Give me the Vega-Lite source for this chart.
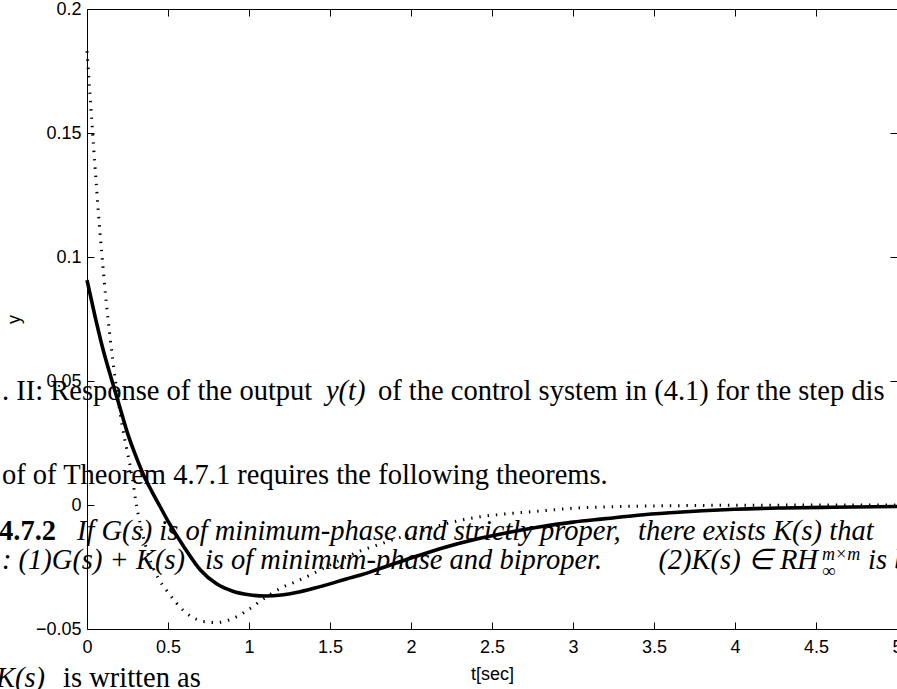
{
  "$schema": "https://vega.github.io/schema/vega-lite/v6.json",
  "width": 810,
  "height": 620,
  "autosize": {"type": "none"},
  "padding": {"left": 87, "top": 9, "right": 0, "bottom": 60},
  "background": "white",
  "config": {
    "view": {"stroke": null},
    "axis": {
      "domainColor": "black", "tickColor": "black", "labelColor": "black", "titleColor": "black",
      "labelFont": "Liberation Sans", "titleFont": "Liberation Sans",
      "labelFontSize": 18, "titleFontSize": 18, "titleFontWeight": "normal",
      "grid": false, "domainWidth": 1, "tickWidth": 1,
      "labelFlush": false, "labelOverlap": false
    }
  },
  "datasets": {
    "solid": [
      {"t": 0, "y": 0.0907}, {"t": 0.05, "y": 0.076}, {"t": 0.1, "y": 0.0625}, {"t": 0.15, "y": 0.051},
      {"t": 0.2, "y": 0.040}, {"t": 0.25, "y": 0.029}, {"t": 0.3, "y": 0.020}, {"t": 0.35, "y": 0.012},
      {"t": 0.4, "y": 0.0055}, {"t": 0.45, "y": -0.0005}, {"t": 0.5, "y": -0.0065}, {"t": 0.6, "y": -0.017},
      {"t": 0.7, "y": -0.0262}, {"t": 0.8, "y": -0.0318}, {"t": 0.9, "y": -0.0348}, {"t": 1.0, "y": -0.0362},
      {"t": 1.1, "y": -0.0367}, {"t": 1.2, "y": -0.0363}, {"t": 1.3, "y": -0.0352}, {"t": 1.4, "y": -0.0336},
      {"t": 1.5, "y": -0.0318}, {"t": 1.6, "y": -0.0298}, {"t": 1.7, "y": -0.028}, {"t": 1.8, "y": -0.0258},
      {"t": 1.9, "y": -0.0236}, {"t": 2.0, "y": -0.0214}, {"t": 2.2, "y": -0.0172}, {"t": 2.4, "y": -0.0138},
      {"t": 2.6, "y": -0.0111}, {"t": 2.8, "y": -0.0088}, {"t": 3.0, "y": -0.0069}, {"t": 3.2, "y": -0.0055},
      {"t": 3.4, "y": -0.0041}, {"t": 3.6, "y": -0.0031}, {"t": 3.8, "y": -0.0023}, {"t": 4.0, "y": -0.0017},
      {"t": 4.3, "y": -0.0012}, {"t": 4.6, "y": -0.0009}, {"t": 5.0, "y": -0.0006}
    ],
    "dotted": [
      {"t": 0, "y": 0.183}, {"t": 0.02, "y": 0.164}, {"t": 0.04, "y": 0.145}, {"t": 0.06, "y": 0.127},
      {"t": 0.08, "y": 0.11}, {"t": 0.1, "y": 0.095}, {"t": 0.12, "y": 0.081}, {"t": 0.14, "y": 0.069},
      {"t": 0.16, "y": 0.058}, {"t": 0.18, "y": 0.048}, {"t": 0.2, "y": 0.039}, {"t": 0.22, "y": 0.031},
      {"t": 0.25, "y": 0.021}, {"t": 0.28, "y": 0.011}, {"t": 0.3, "y": 0.002}, {"t": 0.33, "y": -0.008},
      {"t": 0.36, "y": -0.016}, {"t": 0.4, "y": -0.024}, {"t": 0.44, "y": -0.0296}, {"t": 0.49, "y": -0.0343},
      {"t": 0.55, "y": -0.0394}, {"t": 0.6, "y": -0.0428}, {"t": 0.65, "y": -0.0452}, {"t": 0.72, "y": -0.047},
      {"t": 0.8, "y": -0.0474}, {"t": 0.9, "y": -0.0458}, {"t": 1.0, "y": -0.042}, {"t": 1.1, "y": -0.0374},
      {"t": 1.2, "y": -0.0334}, {"t": 1.3, "y": -0.0306}, {"t": 1.4, "y": -0.0275}, {"t": 1.5, "y": -0.0242},
      {"t": 1.6, "y": -0.021}, {"t": 1.7, "y": -0.0182}, {"t": 1.8, "y": -0.016}, {"t": 1.9, "y": -0.0138},
      {"t": 2.0, "y": -0.0118}, {"t": 2.2, "y": -0.0078}, {"t": 2.4, "y": -0.005}, {"t": 2.6, "y": -0.0035},
      {"t": 2.8, "y": -0.0024}, {"t": 3.0, "y": -0.0013}, {"t": 3.3, "y": -0.0006}, {"t": 3.6, "y": -0.0003},
      {"t": 4.0, "y": -0.0001}, {"t": 5.0, "y": 0}
    ],
    "roman": [
      {"t": -0.525, "v": 0.0423, "s": ". II: Response of the output"},
      {"t": 1.796, "v": 0.0423, "s": "of the control system in (4.1) for the step dis"},
      {"t": -0.525, "v": 0.0085, "s": "of of Theorem 4.7.1 requires the following theorems."},
      {"t": -0.148, "v": -0.0734, "s": "is written as"}
    ],
    "italic": [
      {"t": 1.475, "v": 0.0423, "s": "y(t)"},
      {"t": -0.062, "v": -0.0141, "s": "If G(s) is of minimum-phase and strictly proper,"},
      {"t": 3.401, "v": -0.0141, "s": "there exists K(s) that"},
      {"t": -0.525, "v": -0.026, "s": ": (1)G(s) + K(s)"},
      {"t": 0.728, "v": -0.026, "s": "is of minimum-phase and biproper."},
      {"t": 4.821, "v": -0.026, "s": "is b"},
      {"t": -0.562, "v": -0.0734, "s": "K(s)"}
    ],
    "italicRight": [
      {"t": 4.512, "v": -0.026, "s": "(2)K(s) ∈ RH"}
    ],
    "bold": [
      {"t": -0.543, "v": -0.0141, "s": "4.7.2"}
    ],
    "smallItalic": [
      {"t": 4.537, "v": -0.0222, "s": "m×m"}
    ],
    "smallRoman": [
      {"t": 4.537, "v": -0.029, "s": "∞"}
    ]
  },
  "layer": [
    {
      "data": {"name": "roman"},
      "mark": {"type": "text", "align": "left", "baseline": "alphabetic", "font": "Liberation Serif", "fontSize": 28.5, "color": "black"},
      "encoding": {
        "x": {"field": "t", "type": "quantitative", "scale": {"domain": [0, 5], "nice": false, "zero": false}, "axis": null},
        "y": {"field": "v", "type": "quantitative", "scale": {"domain": [-0.05, 0.2], "nice": false, "zero": false}, "axis": null},
        "text": {"field": "s"}
      }
    },
    {
      "data": {"name": "italic"},
      "mark": {"type": "text", "align": "left", "baseline": "alphabetic", "font": "Liberation Serif", "fontStyle": "italic", "fontSize": 28.5, "color": "black"},
      "encoding": {
        "x": {"field": "t", "type": "quantitative", "scale": {"domain": [0, 5], "nice": false, "zero": false}, "axis": null},
        "y": {"field": "v", "type": "quantitative", "scale": {"domain": [-0.05, 0.2], "nice": false, "zero": false}, "axis": null},
        "text": {"field": "s"}
      }
    },
    {
      "data": {"name": "italicRight"},
      "mark": {"type": "text", "align": "right", "baseline": "alphabetic", "font": "Liberation Serif", "fontStyle": "italic", "fontSize": 28.5, "color": "black"},
      "encoding": {
        "x": {"field": "t", "type": "quantitative", "scale": {"domain": [0, 5], "nice": false, "zero": false}, "axis": null},
        "y": {"field": "v", "type": "quantitative", "scale": {"domain": [-0.05, 0.2], "nice": false, "zero": false}, "axis": null},
        "text": {"field": "s"}
      }
    },
    {
      "data": {"name": "bold"},
      "mark": {"type": "text", "align": "left", "baseline": "alphabetic", "font": "Liberation Serif", "fontWeight": "bold", "fontSize": 28.5, "color": "black"},
      "encoding": {
        "x": {"field": "t", "type": "quantitative", "scale": {"domain": [0, 5], "nice": false, "zero": false}, "axis": null},
        "y": {"field": "v", "type": "quantitative", "scale": {"domain": [-0.05, 0.2], "nice": false, "zero": false}, "axis": null},
        "text": {"field": "s"}
      }
    },
    {
      "data": {"name": "smallItalic"},
      "mark": {"type": "text", "align": "left", "baseline": "alphabetic", "font": "Liberation Serif", "fontStyle": "italic", "fontSize": 18, "color": "black"},
      "encoding": {
        "x": {"field": "t", "type": "quantitative", "scale": {"domain": [0, 5], "nice": false, "zero": false}, "axis": null},
        "y": {"field": "v", "type": "quantitative", "scale": {"domain": [-0.05, 0.2], "nice": false, "zero": false}, "axis": null},
        "text": {"field": "s"}
      }
    },
    {
      "data": {"name": "smallRoman"},
      "mark": {"type": "text", "align": "left", "baseline": "alphabetic", "font": "Liberation Serif", "fontSize": 19, "color": "black"},
      "encoding": {
        "x": {"field": "t", "type": "quantitative", "scale": {"domain": [0, 5], "nice": false, "zero": false}, "axis": null},
        "y": {"field": "v", "type": "quantitative", "scale": {"domain": [-0.05, 0.2], "nice": false, "zero": false}, "axis": null},
        "text": {"field": "s"}
      }
    },
    {
      "mark": {"type": "rule", "color": "black", "strokeWidth": 1, "strokeDash": [1, 4]},
      "encoding": {
        "y": {"datum": 0, "type": "quantitative", "scale": {"domain": [-0.05, 0.2], "nice": false, "zero": false}, "axis": null}
      }
    },
    {
      "data": {"name": "dotted"},
      "mark": {"type": "line", "color": "black", "strokeWidth": 3, "strokeDash": [1.4, 6.9], "interpolate": "monotone"},
      "encoding": {
        "x": {"field": "t", "type": "quantitative", "scale": {"domain": [0, 5], "nice": false, "zero": false},
              "axis": {"orient": "top", "values": [0, 0.5, 1, 1.5, 2, 2.5, 3, 3.5, 4, 4.5, 5], "labels": false, "title": null, "tickSize": -7}},
        "y": {"field": "y", "type": "quantitative", "scale": {"domain": [-0.05, 0.2], "nice": false, "zero": false},
              "axis": {"orient": "right", "values": [-0.05, 0, 0.05, 0.1, 0.15, 0.2], "labels": false, "title": null, "tickSize": -7}}
      }
    },
    {
      "data": {"name": "solid"},
      "mark": {"type": "line", "color": "black", "strokeWidth": 3.6, "interpolate": "monotone"},
      "encoding": {
        "x": {"field": "t", "type": "quantitative", "scale": {"domain": [0, 5], "nice": false, "zero": false},
              "axis": {"orient": "bottom", "values": [0, 0.5, 1, 1.5, 2, 2.5, 3, 3.5, 4, 4.5, 5], "format": "~g", "tickSize": -7, "labelPadding": 16, "title": "t[sec]", "titlePadding": 9}},
        "y": {"field": "y", "type": "quantitative", "scale": {"domain": [-0.05, 0.2], "nice": false, "zero": false},
              "axis": {"orient": "left", "values": [-0.05, 0, 0.05, 0.1, 0.15, 0.2], "format": "~g", "tickSize": -7, "labelPadding": 13, "title": "y", "titlePadding": 12}}
      }
    }
  ],
  "resolve": {"axis": {"x": "independent", "y": "independent"}}
}
